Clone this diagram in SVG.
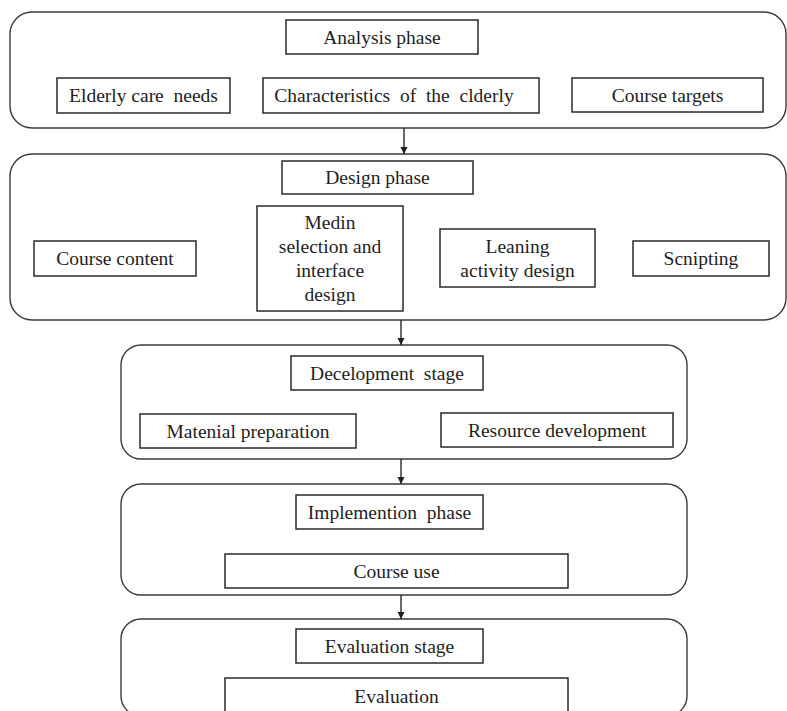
<svg xmlns="http://www.w3.org/2000/svg" width="787" height="711" viewBox="0 0 787 711">
<defs>
<style>
.stage{fill:#fff;stroke:#3a3a3a;stroke-width:1.4}
.box{fill:#fff;stroke:#2a2a2a;stroke-width:1.5}
.t{font-family:"Liberation Serif","Times New Roman",serif;font-size:19.5px;fill:#1e1e1e;text-anchor:middle}
.conn{stroke:#2a2a2a;stroke-width:1.4;fill:none}
</style>
<marker id="ah" viewBox="0 0 10 10" refX="10" refY="5" markerWidth="7" markerHeight="8" markerUnits="userSpaceOnUse" orient="auto">
<path d="M0,0 L10,5 L0,10 Z" fill="#1e1e1e"/>
</marker>
</defs>
<rect width="787" height="711" fill="#fff"/>

<g id="analysis">
<rect class="stage" x="10" y="12" width="776" height="116" rx="22"/>
<g id="analysis-phase"><rect class="box" x="286" y="20" width="192" height="34"/><text class="t" x="382" y="43.5">Analysis phase</text></g>
<g id="elderly-care-needs"><rect class="box" x="57" y="78" width="173" height="35"/><text class="t" x="143.5" y="102" xml:space="preserve">Elderly care  needs</text></g>
<g id="characteristics"><rect class="box" x="263" y="78" width="276" height="35"/><text class="t" x="394" y="102" xml:space="preserve">Characteristics  of  the  clderly</text></g>
<g id="course-targets"><rect class="box" x="572" y="78" width="191" height="34"/><text class="t" x="667.5" y="102">Course targets</text></g>
</g>

<g id="design">
<rect class="stage" x="10" y="154" width="776" height="166" rx="22"/>
<g id="design-phase"><rect class="box" x="282" y="161" width="191" height="33"/><text class="t" x="377.5" y="184">Design phase</text></g>
<g id="course-content"><rect class="box" x="34" y="241" width="162" height="35"/><text class="t" x="115" y="265">Course content</text></g>
<g id="media-selection"><rect class="box" x="257" y="206" width="146" height="105"/>
<text class="t" x="330" y="229">Medin</text>
<text class="t" x="330" y="253">selection and</text>
<text class="t" x="330" y="277">interface</text>
<text class="t" x="330" y="301">design</text></g>
<g id="learning-activity"><rect class="box" x="440" y="229" width="155" height="58"/>
<text class="t" x="517.5" y="252.5">Leaning</text>
<text class="t" x="517.5" y="276.5">activity design</text></g>
<g id="scripting"><rect class="box" x="633" y="241" width="136" height="35"/><text class="t" x="701" y="265">Scnipting</text></g>
</g>

<g id="development">
<rect class="stage" x="121" y="345" width="566" height="114" rx="20"/>
<g id="development-stage"><rect class="box" x="291" y="356" width="192" height="34"/><text class="t" x="387" y="379.5" xml:space="preserve">Decelopment  stage</text></g>
<g id="material-preparation"><rect class="box" x="140" y="414" width="216" height="34"/><text class="t" x="248" y="437.5">Matenial preparation</text></g>
<g id="resource-development"><rect class="box" x="441" y="413" width="232" height="34"/><text class="t" x="557" y="436.5">Resource development</text></g>
</g>

<g id="implementation">
<rect class="stage" x="121" y="484" width="566" height="111" rx="20"/>
<g id="implementation-phase"><rect class="box" x="296" y="495" width="187" height="34"/><text class="t" x="389.5" y="518.5" xml:space="preserve">Implemention  phase</text></g>
<g id="course-use"><rect class="box" x="225" y="554" width="343" height="34"/><text class="t" x="396.5" y="577.5">Course use</text></g>
</g>

<g id="evaluation">
<rect class="stage" x="121" y="619" width="566" height="97" rx="20"/>
<g id="evaluation-stage"><rect class="box" x="296" y="629" width="187" height="34"/><text class="t" x="389.5" y="652.5">Evaluation stage</text></g>
<g id="evaluation-box"><rect class="box" x="225" y="678" width="343" height="36"/><text class="t" x="396.5" y="703">Evaluation</text></g>
</g>

<g id="connectors">
<line class="conn" x1="404" y1="128" x2="404" y2="154" marker-end="url(#ah)"/>
<line class="conn" x1="401" y1="320" x2="401" y2="345" marker-end="url(#ah)"/>
<line class="conn" x1="401" y1="459" x2="401" y2="484" marker-end="url(#ah)"/>
<line class="conn" x1="401" y1="595" x2="401" y2="619" marker-end="url(#ah)"/>
</g>
</svg>
